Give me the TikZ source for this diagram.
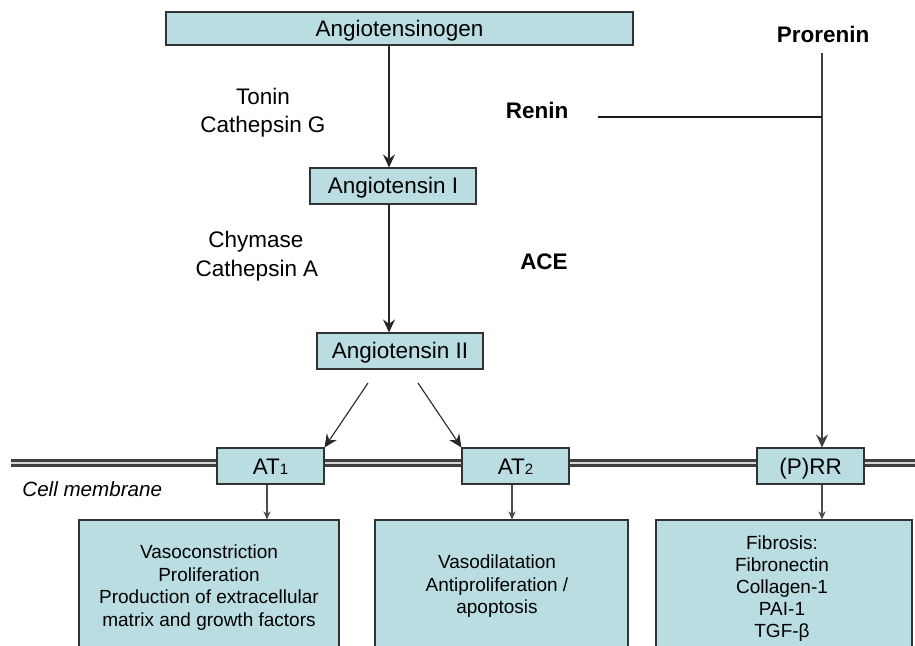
\documentclass[tikz,border=0pt]{standalone}
\usepackage{fontspec}
\setmainfont{Liberation Sans}
\usetikzlibrary{arrows.meta}
\definecolor{boxfill}{RGB}{185,221,224}
\definecolor{boxline}{RGB}{50,50,50}
\begin{document}
\begin{tikzpicture}[x=0.5pt,y=-0.5pt,
  sz/.style n args={2}{minimum width=#1*0.5pt,minimum height=#2*0.5pt},
  box/.style={draw=boxline,line width=0.55pt,fill=boxfill,inner sep=0pt,
    font=\fontsize{11.25}{13.5}\selectfont,text height=8pt,text depth=0pt},
  lbl/.style={font=\fontsize{11.25}{13.5}\selectfont,anchor=base,inner sep=0pt},
  blbl/.style={lbl,font=\fontsize{11.25}{13.5}\selectfont\bfseries},
  btxt/.style={font=\fontsize{9.5}{11.3}\selectfont,align=center,anchor=north,inner sep=0pt},
  bigarr/.style={draw=black!85,line width=0.55pt,-{Stealth[length=6.5pt,width=6pt,inset=2.2pt]}},
  smallarr/.style={draw=black!70,line width=0.55pt,-{Stealth[length=4pt,width=3.6pt,inset=1.2pt]}}
]
\clip (0,0) rectangle (915,646);
\fill[white] (0,0) rectangle (915,646);

% membrane
\draw[line width=4pt,draw=black!75,line cap=butt] (11,463) -- (915,463);
\draw[line width=1.1pt,draw=black!15,line cap=butt] (11,463) -- (915,463);
\node[font=\fontsize{10.3}{12}\selectfont\itshape,anchor=base west,inner sep=0pt] (cm) at (22,496) {Cell membrane};

% top boxes
\node[box,sz={467}{33}] (agt) at (399.5,28.5) {Angiotensinogen};
\node[box,sz={166}{36}] (ang1) at (393,186) {Angiotensin I};
\node[box,sz={166}{36}] (ang2) at (400,351) {Angiotensin II};

% receptors
\node[box,sz={107}{36}] (at1) at (270.5,466) {AT{\fontsize{7.5}{9}\selectfont 1}};
\node[box,sz={107}{36}] (at2) at (515.5,466) {AT{\fontsize{7.5}{9}\selectfont 2}};
\node[box,sz={107}{36}] (prr) at (810.5,466) {(P)RR};

% bottom boxes
\node[box,sz={260}{140}] (lb) at (209,590) {};
\node[box,sz={253}{140}] (mb) at (501.5,590) {};
\node[box,sz={256}{140}] (rb) at (784,590) {};

\node[btxt] (lbt) at (209,544.5) {Vasoconstriction\\Proliferation\\Production of extracellular\\matrix and growth factors};
\node[btxt] (mbt) at (497,554.5) {Vasodilatation\\Antiproliferation /\\apoptosis};
\node[btxt,font=\fontsize{9.5}{11}\selectfont] (rbt) at (782,535.5) {Fibrosis:\\Fibronectin\\Collagen-1\\PAI-1\\TGF-β};

% labels
\node[lbl] (tonin) at (263,105) {Tonin};
\node[lbl] (catg) at (263,133) {Cathepsin G};
\node[lbl] (chym) at (256,248) {Chymase};
\node[lbl] (cata) at (257,277) {Cathepsin A};
\node[blbl] (renin) at (537,119) {Renin};
\node[blbl] (ace) at (544,270) {ACE};
\node[blbl] (prorenin) at (823,43) {Prorenin};

% coordinates
\coordinate (axis) at (389,0);
\coordinate (pr) at (822,0);
\coordinate (prtop) at (822,53);
\coordinate (rl) at (598,117);
\coordinate (a2l) at (368,383);
\coordinate (a2r) at (418,383);
\coordinate (d1) at (267,0);
\coordinate (d2) at (512,0);

% connectors
\draw[bigarr] (axis |- agt.south) -- (axis |- ang1.north);
\draw[bigarr] (axis |- ang1.south) -- (axis |- ang2.north);
\draw[bigarr] (a2l) -- (at1.north east);
\draw[bigarr] (a2r) -- (at2.north west);
\draw[bigarr,draw=black!75] (prtop) -- (pr |- prr.north);
\draw[line width=0.55pt,draw=black!90] (rl) -- (rl -| pr);

\draw[smallarr] (d1 |- at1.south) -- (d1 |- lb.north);
\draw[smallarr] (d2 |- at2.south) -- (d2 |- mb.north);
\draw[smallarr] (pr |- prr.south) -- (pr |- rb.north);
\end{tikzpicture}
\end{document}
